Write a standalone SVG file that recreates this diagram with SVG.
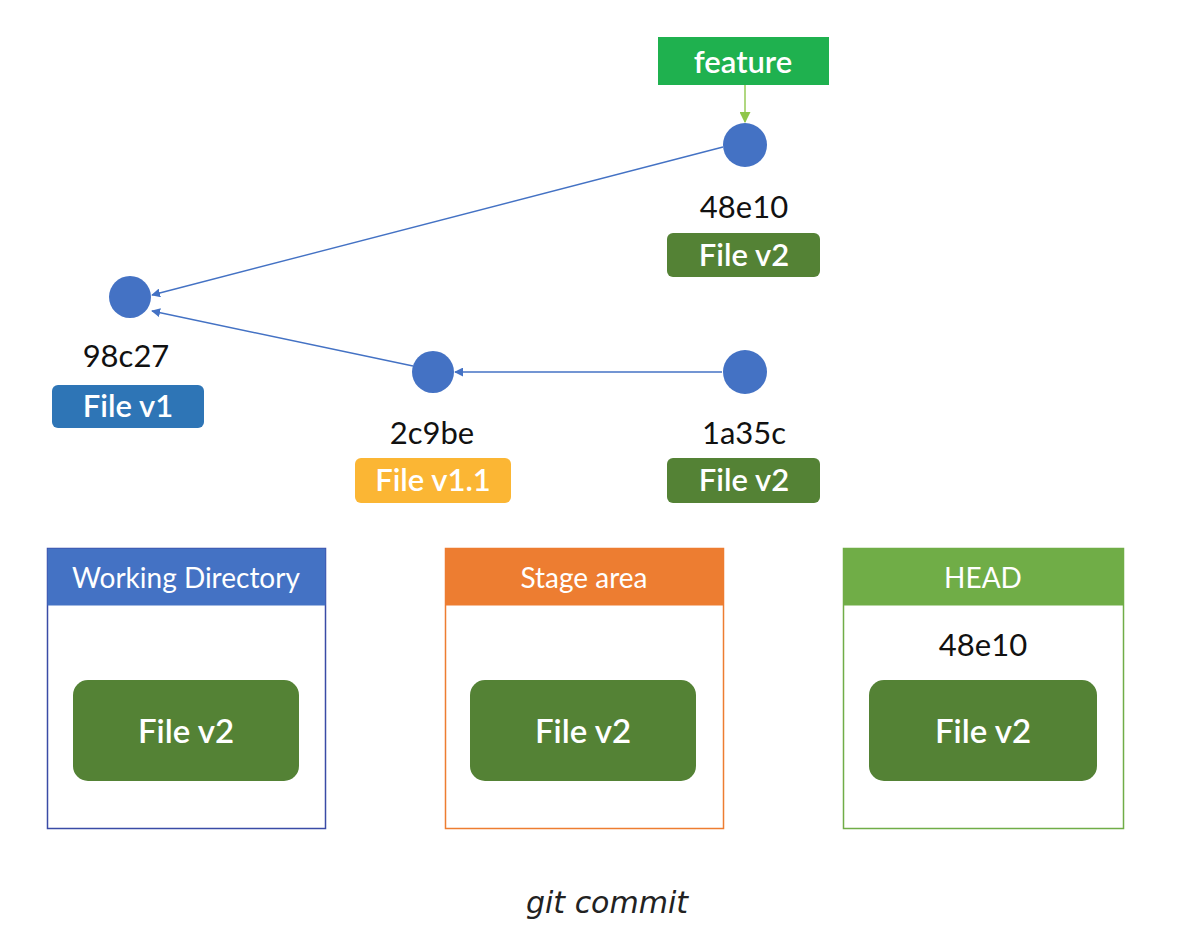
<svg xmlns="http://www.w3.org/2000/svg" width="1180" height="926" viewBox="0 0 1180 926">
<style>
.commit{fill:#4472c4}
.hash{font-family:Lato,"Open Sans",sans-serif;font-size:31px;fill:#111;text-anchor:middle}
.lbl{font-family:Lato,"Open Sans",sans-serif;font-size:31px;font-weight:600;fill:#fff;text-anchor:middle}
.big{font-family:Lato,"Open Sans",sans-serif;font-size:33px;font-weight:600;fill:#fff;text-anchor:middle}
.hdr{font-family:Lato,"Open Sans",sans-serif;font-size:28px;fill:#fff;text-anchor:middle}
.edge{stroke:#4472c4;stroke-width:1.4;fill:none;marker-end:url(#ab)}
</style>
<defs>
<marker id="ab" viewBox="0 0 10 10" refX="9" refY="5" markerWidth="9" markerHeight="9" markerUnits="userSpaceOnUse" orient="auto"><path d="M0,0 L10,5 L0,10 z" fill="#4472c4"/></marker>
<marker id="ag" viewBox="0 0 10 10" refX="9" refY="5" markerWidth="11" markerHeight="11" markerUnits="userSpaceOnUse" orient="auto"><path d="M0,0 L10,5 L0,10 z" fill="#8fc64a"/></marker>
</defs>
<rect width="1180" height="926" fill="#fff"/>
<g id="connectors">
<line class="edge" x1="723" y1="147" x2="152" y2="295"/>
<line class="edge" x1="413" y1="366" x2="152" y2="311"/>
<line class="edge" x1="722" y1="372" x2="455" y2="372"/>
<line x1="745" y1="85" x2="745" y2="122" stroke="#8fc64a" stroke-width="1.4" marker-end="url(#ag)"/>
</g>
<g id="feature">
<rect x="658" y="37" width="171" height="48" fill="#1fb14f"/>
<text x="743" y="73" class="lbl" font-size="34">feature</text>
</g>
<g id="c48e10">
<circle class="commit" cx="745" cy="145" r="22"/>
<text x="744" y="218" class="hash">48e10</text>
<rect x="667" y="233" width="153" height="44" rx="6" fill="#548235"/>
<text x="744" y="266" class="lbl">File v2</text>
</g>
<g id="c98c27">
<circle class="commit" cx="130" cy="297" r="21"/>
<text x="126" y="367" class="hash">98c27</text>
<rect x="52" y="385" width="152" height="43" rx="6" fill="#2e75b6"/>
<text x="128" y="417" class="lbl">File v1</text>
</g>
<g id="c2c9be">
<circle class="commit" cx="433" cy="372" r="21"/>
<text x="432" y="444" class="hash">2c9be</text>
<rect x="355" y="458" width="156" height="45" rx="6" fill="#fbb634"/>
<text x="433" y="491" class="lbl">File v1.1</text>
</g>
<g id="c1a35c">
<circle class="commit" cx="745" cy="372" r="22"/>
<text x="744" y="444" class="hash">1a35c</text>
<rect x="667" y="458" width="153" height="45" rx="6" fill="#548235"/>
<text x="744" y="491" class="lbl">File v2</text>
</g>
<g id="working-directory">
<rect x="47.5" y="548.5" width="278" height="280" fill="#fff" stroke="#3a4ba6" stroke-width="1.5"/>
<rect x="47.5" y="548.5" width="278" height="57" fill="#4472c4"/>
<text x="186" y="588" class="hdr">Working Directory</text>
<rect x="73" y="680" width="226" height="101" rx="15" fill="#548235"/>
<text x="186" y="743" class="big">File v2</text>
</g>
<g id="stage-area">
<rect x="445.5" y="548.5" width="278" height="280" fill="#fff" stroke="#ed7d31" stroke-width="1.5"/>
<rect x="445.5" y="548.5" width="278" height="57" fill="#ed7d31"/>
<text x="584" y="588" class="hdr">Stage area</text>
<rect x="470" y="680" width="226" height="101" rx="15" fill="#548235"/>
<text x="583" y="743" class="big">File v2</text>
</g>
<g id="head">
<rect x="843.5" y="548.5" width="280" height="280" fill="#fff" stroke="#70ad47" stroke-width="1.5"/>
<rect x="843.5" y="548.5" width="280" height="57" fill="#70ad47"/>
<text x="983" y="588" class="hdr">HEAD</text>
<text x="983" y="656" class="hash">48e10</text>
<rect x="869" y="680" width="228" height="101" rx="15" fill="#548235"/>
<text x="983" y="743" class="big">File v2</text>
</g>
<text x="607" y="913" font-family="DejaVu Sans, sans-serif" font-style="italic" font-size="30" fill="#222" text-anchor="middle">git commit</text>
</svg>
